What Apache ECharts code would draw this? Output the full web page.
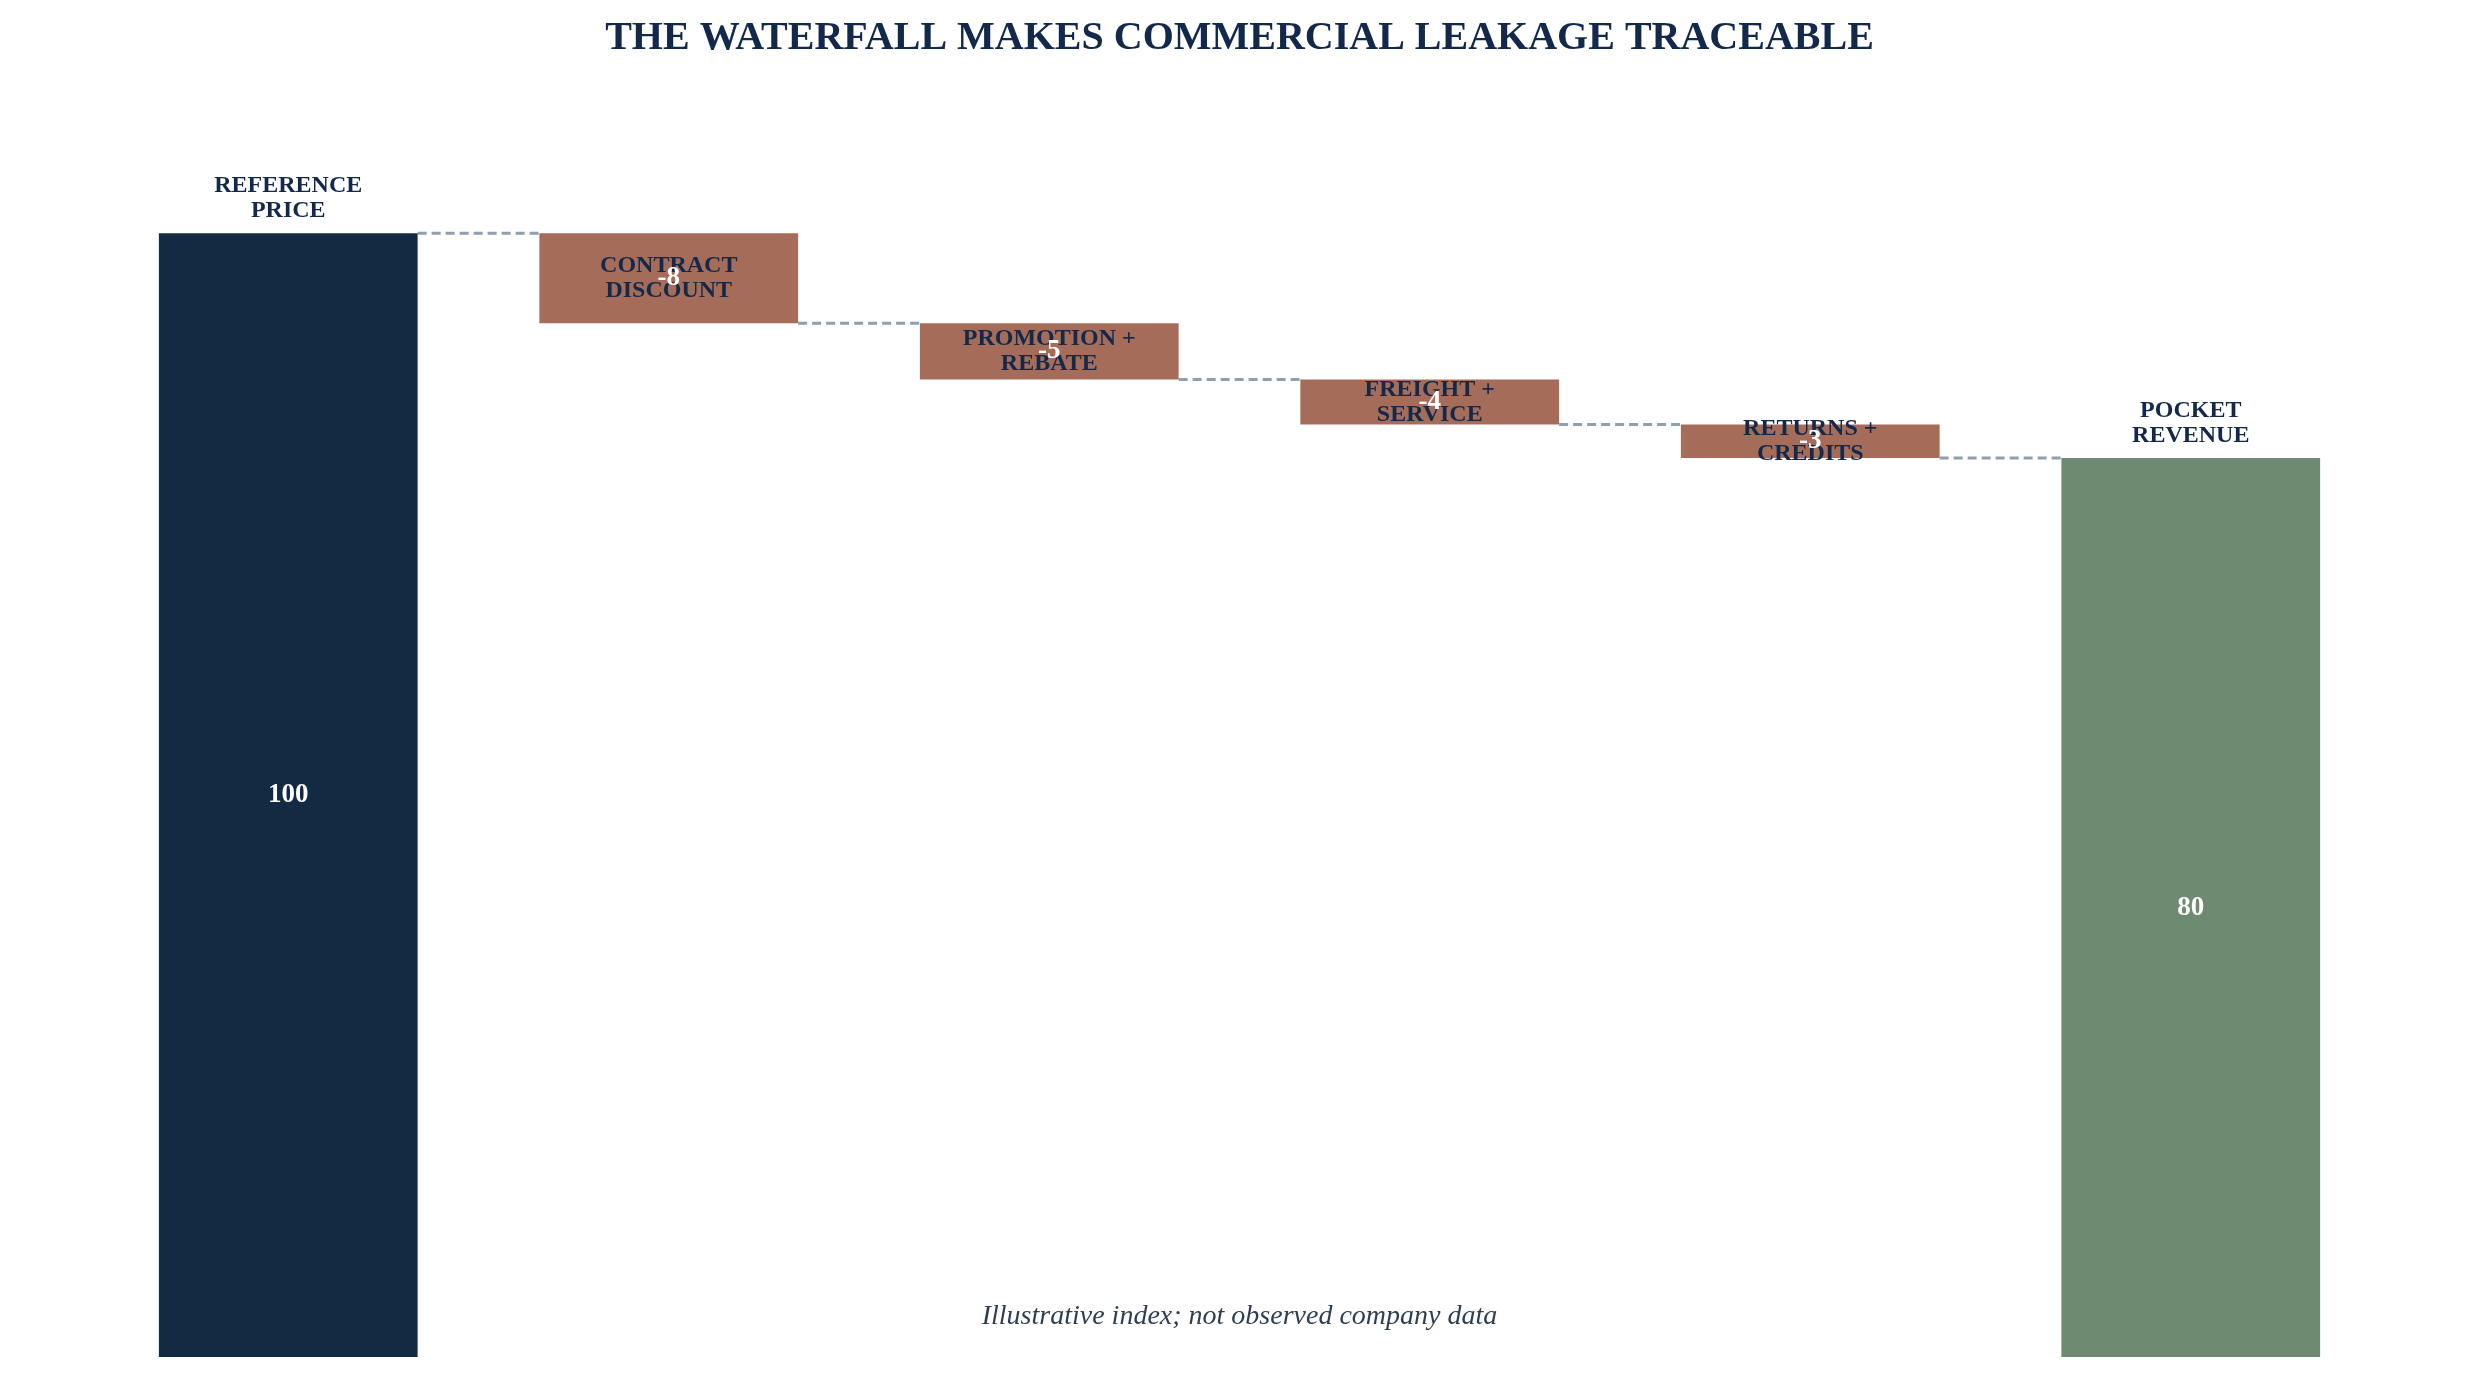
<!DOCTYPE html>
<html>
<head>
<meta charset="utf-8">
<title>Waterfall</title>
<script src="https://cdn.jsdelivr.net/npm/echarts@6/dist/echarts.min.js"></script>
<style>
  html, body { margin: 0; padding: 0; background: #ffffff; }
  #chart { width: 2479px; height: 1379px; }
</style>
</head>
<body>
<div id="chart"></div>
<script>
// waterfall data
const categories = ['REFERENCE\nPRICE', 'CONTRACT\nDISCOUNT', 'PROMOTION +\nREBATE', 'FREIGHT +\nSERVICE', 'RETURNS +\nCREDITS', 'POCKET\nREVENUE'];
const values = [100, -8, -5, -4, -3, 80];
const kinds = ['start', 'delta', 'delta', 'delta', 'delta', 'end'];

const colors = { start: '#132a43', delta: '#a56c5a', end: '#6e8b72' };
const navy = '#13294b';
const serif = '"Liberation Serif", "DejaVu Serif", serif';

// running totals -> [index, low, high, value, kind]
let running = 0;
const barData = [];
const levels = [];
values.forEach(function (v, i) {
  let lo, hi;
  if (kinds[i] === 'delta') {
    lo = running + v;
    hi = running;
    running = running + v;
  } else {
    lo = 0;
    hi = v;
    running = v;
  }
  barData.push([i, lo, hi, v, kinds[i]]);
  levels.push([i, running]);
});
const connectorData = levels.slice(0, -1);

const BAR_RATIO = 0.68;

function renderBar(params, api) {
  const i = api.value(0);
  const top = api.coord([i, api.value(2)]);
  const bottom = api.coord([i, api.value(1)]);
  const w = api.size([1, 0])[0] * BAR_RATIO;
  const kind = kinds[i];
  const cx = top[0];
  const cy = (top[1] + bottom[1]) / 2;
  const v = values[i];
  return {
    type: 'group',
    children: [
      {
        type: 'rect',
        shape: { x: cx - w / 2, y: top[1], width: w, height: bottom[1] - top[1] },
        style: { fill: colors[kind] }
      },
      {
        type: 'text',
        z2: 10,
        style: {
          text: categories[i],
          x: cx,
          y: kind === 'delta' ? cy : top[1] - 10,
          align: 'center',
          verticalAlign: kind === 'delta' ? 'middle' : 'bottom',
          fontFamily: serif,
          fontWeight: 'bold',
          fontSize: 24,
          lineHeight: 25,
          fill: navy
        }
      },
      {
        type: 'text',
        z2: 11,
        style: {
          text: String(v),
          x: cx,
          y: cy,
          align: 'center',
          verticalAlign: 'middle',
          fontFamily: serif,
          fontWeight: 'bold',
          fontSize: 27,
          fill: '#ffffff'
        }
      }
    ]
  };
}

function renderConnector(params, api) {
  const i = api.value(0);
  const level = api.value(1);
  const w = api.size([1, 0])[0] * BAR_RATIO;
  const a = api.coord([i, level]);
  const b = api.coord([i + 1, level]);
  return {
    type: 'line',
    shape: { x1: a[0] + w / 2, y1: a[1], x2: b[0] - w / 2, y2: b[1] },
    style: { stroke: '#8e9fb0', lineWidth: 3, lineDash: [9, 5] }
  };
}

const chart = echarts.init(document.getElementById('chart'));

const option = {
  backgroundColor: '#ffffff',
  animation: false,
  title: {
    text: 'THE WATERFALL MAKES COMMERCIAL LEAKAGE TRACEABLE',
    left: 'center',
    top: 14,
    textStyle: {
      fontFamily: serif,
      fontWeight: 'bold',
      fontSize: 40,
      color: navy
    }
  },
  grid: {
    left: 98,
    right: 98,
    top: 121,
    bottom: 22
  },
  xAxis: {
    type: 'category',
    data: categories,
    show: false
  },
  yAxis: {
    type: 'value',
    min: 0,
    max: 110,
    show: false,
    splitLine: { show: false }
  },
  graphic: [
    {
      type: 'text',
      left: 'center',
      top: 1303,
      style: {
        text: 'Illustrative index; not observed company data',
        fontFamily: serif,
        fontStyle: 'italic',
        fontSize: 28,
        fill: '#2f3f52'
      }
    }
  ],
  series: [
    {
      type: 'custom',
      name: 'connectors',
      renderItem: renderConnector,
      data: connectorData,
      encode: { x: 0, y: 1 },
      silent: true
    },
    {
      type: 'custom',
      name: 'waterfall',
      renderItem: renderBar,
      data: barData,
      encode: { x: 0, y: [1, 2] }
    }
  ]
};

chart.setOption(option);
</script>
</body>
</html>
